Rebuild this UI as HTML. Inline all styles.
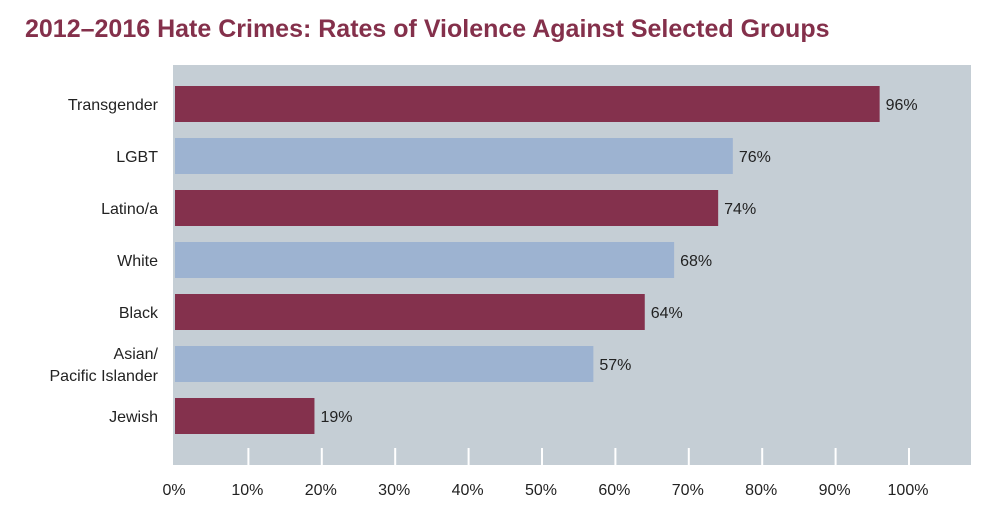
<!DOCTYPE html>
<html><head><meta charset="utf-8"><style>
html,body{margin:0;padding:0;background:#fff;}
svg{display:block;font-family:"Liberation Sans",sans-serif;}
</style></head><body>
<svg id="chart" width="1000" height="518" viewBox="0 0 1000 518">
<text x="25" y="37" font-size="25" font-weight="bold" fill="#84304b">2012–2016 Hate Crimes: Rates of Violence Against Selected Groups</text>
<rect x="173" y="65" width="798" height="400" fill="#c5ced5"/>
<g id="bars"></g>
<g id="axis"></g>
</svg>
<script>
const categories = [["Transgender"],["LGBT"],["Latino/a"],["White"],["Black"],["Asian/","Pacific Islander"],["Jewish"]];
const values = [96,76,74,68,64,57,19];
const colors = ["#84314d","#9db3d1","#84314d","#9db3d1","#84314d","#9db3d1","#84314d"];
const ticks = [0,10,20,30,40,50,60,70,80,90,100];
const tickLabels = ["0%","10%","20%","30%","40%","50%","60%","70%","80%","90%","100%"];
const ns="http://www.w3.org/2000/svg";
const x = v => 175 + v*7.34;
const yTop = i => 86 + i*52;
const bh = 36;
const bars=document.getElementById('bars'), axis=document.getElementById('axis');
function mk(tag,attrs,parent){const e=document.createElementNS(ns,tag);for(const k in attrs)e.setAttribute(k,attrs[k]);parent.appendChild(e);return e;}
values.forEach((v,i)=>{
  const r=mk('rect',{x:x(0),y:yTop(i),width:x(v)-x(0),height:bh,fill:colors[i]},bars);
  
  
  const t=mk('text',{x:x(v)+6,y:yTop(i)+bh/2+6,'font-size':16,fill:'#222'},bars);
  t.textContent=v+'%';
  
  
  const lines=categories[i];
  const l=mk('text',{'text-anchor':'end','font-size':16,fill:'#222'},bars);
  
  
  lines.forEach((s,j)=>{
    const ts=mk('tspan',{x:158,y:yTop(i)+bh/2+6+(j-(lines.length-1)/2)*22},l);
    ts.textContent=s;
  });
});
ticks.forEach((t,i)=>{
  if(t>0){
    const ln=mk('line',{x1:x(t),x2:x(t),y1:448,y2:465,stroke:'#fff','stroke-width':2},axis);
    
    
  }
  const tx=mk('text',{x:x(t)-1,y:495,'text-anchor':'middle','font-size':16,fill:'#222'},axis);
  tx.textContent=tickLabels[i];
  
  
});
</script>
</body></html>
